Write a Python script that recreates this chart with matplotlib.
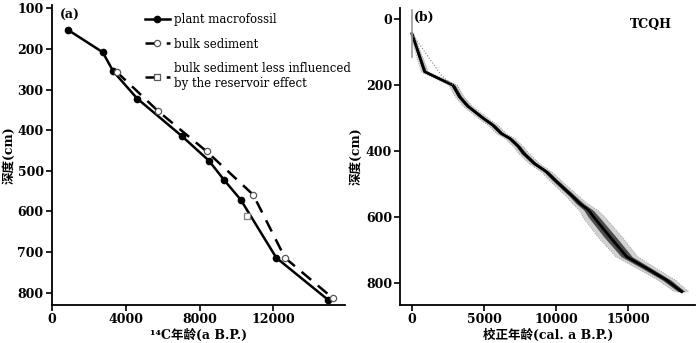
import numpy as np
import matplotlib
matplotlib.use("Agg")
import matplotlib.pyplot as plt

plt.rcParams['font.family'] = ['DejaVu Serif', 'Noto Sans CJK SC']
plt.rcParams['axes.unicode_minus'] = False

# (a) radiocarbon ages vs depth
plant_age = [870, 2750, 3320, 4620, 7030, 8510, 9320, 10230, 12160, 14980]
plant_depth = [153, 208, 255, 322, 414, 475, 522, 571, 714, 818]

bulk_age = [3500, 5730, 8380, 10910, 12630, 15210]
bulk_depth = [256, 352, 452, 559, 714, 813]

less_age = [10590]
less_depth = [610]

# (b) age-depth model TCQH
model_depth = [44, 159, 200, 235, 263, 300, 321, 346, 361, 386, 406, 437, 462,
               487, 538, 558, 578, 598, 659, 719, 754, 790, 825]
model_age = [0, 880, 2850, 3310, 3870, 4950, 5630, 6200, 6800, 7400, 7750, 8500,
             9340, 9920, 11190, 11650, 12250, 12600, 13740, 14900, 16290, 17680, 18720]
model_spread = [60, 120, 150, 150, 160, 170, 170, 170, 170, 170, 180, 180, 180,
                200, 220, 260, 320, 380, 420, 380, 330, 300, 250]
dotted_age = [0, 2040, 2850]
dotted_depth = [44, 170, 200]

fig = plt.figure(figsize=(7, 3.43), dpi=100)
ax1 = fig.add_axes([0.0743, 0.111, 0.419, 0.874])
ax2 = fig.add_axes([0.572, 0.111, 0.421, 0.865])

for ax in (ax1, ax2):
    ax.spines['top'].set_visible(False)
    ax.spines['right'].set_visible(False)
    ax.spines['left'].set_linewidth(1.3)
    ax.spines['bottom'].set_linewidth(1.3)
    ax.tick_params(direction='out', length=4, width=1.2, labelsize=9, pad=2)

# panel (a)
ax1.plot(plant_age, plant_depth, '-', color='black', lw=1.8, marker='o', ms=4.5,
         mfc='black', mec='black', label='plant macrofossil')
ax1.plot(bulk_age, bulk_depth, '--', color='black', lw=1.8, dashes=(5, 3.5),
         marker='o', ms=4.5, mfc='white', mec='0.35', mew=0.9, label='bulk sediment')
ax1.plot(less_age, less_depth, marker='s', ms=4.5, mfc='white', mec='0.5', mew=0.9,
         linestyle='none')
# legend handle for the square entry
ax1.plot([], [], '--', color='black', lw=1.8, dashes=(5, 3.5), marker='s', ms=4.5,
         mfc='white', mec='0.35', mew=0.9,
         label='bulk sediment less influenced\nby the reservoir effect')

ax1.set_xlim(0, 15900)
ax1.set_ylim(830, 92)
ax1.set_xticks([0, 4000, 8000, 12000])
ax1.set_yticks([100, 200, 300, 400, 500, 600, 700, 800])
for lab in ax1.get_xticklabels() + ax1.get_yticklabels():
    lab.set_fontweight('bold')
ax1.set_ylabel('深度(cm)', fontsize=9, fontweight='bold', labelpad=1)
ax1.set_xlabel('¹⁴C年龄(a B.P.)', fontsize=9, fontweight='bold', labelpad=2)
ax1.text(0.06, 0.965, '(a)', transform=ax1.transAxes, fontsize=9, fontweight='bold',
         ha='center', va='center')
leg = ax1.legend(loc='upper left', bbox_to_anchor=(0.28, 1.01), frameon=False,
                 fontsize=8.5, handlelength=2.1, handletextpad=0.4, labelspacing=1.0)

# panel (b)
age = np.array(model_age)
sp = np.array(model_spread)
ax2.fill_betweenx(model_depth, age - 2 * sp, age + 2 * sp, color='0.82', lw=0)
ax2.plot(age - 2 * sp, model_depth, ':', color='0.55', lw=0.6)
ax2.plot(age + 2 * sp, model_depth, ':', color='0.55', lw=0.6)
ax2.fill_betweenx(model_depth, age - sp, age + sp, color='0.3', lw=0)
ax2.plot(model_age, model_depth, '-', color='black', lw=2.0)
ax2.plot(dotted_age, dotted_depth, ':', color='0.5', lw=0.8)
ax2.plot([0, 0], [-27, 114], '-', color='0.6', lw=1.2)

ax2.set_xlim(-800, 19650)
ax2.set_ylim(865, -33)
ax2.set_xticks([0, 5000, 10000, 15000])
ax2.set_yticks([0, 200, 400, 600, 800])
for lab in ax2.get_xticklabels() + ax2.get_yticklabels():
    lab.set_fontweight('bold')
ax2.set_ylabel('深度(cm)', fontsize=9, fontweight='bold', labelpad=2)
ax2.set_xlabel('校正年龄(cal. a B.P.)', fontsize=9, fontweight='bold', labelpad=2)
ax2.text(0.08, 0.97, '(b)', transform=ax2.transAxes, fontsize=9, fontweight='bold',
         ha='center', va='center')
ax2.text(0.85, 0.945, 'TCQH', transform=ax2.transAxes, fontsize=9, fontweight='bold',
         ha='center', va='center')

fig.savefig('out.png', dpi=100)
